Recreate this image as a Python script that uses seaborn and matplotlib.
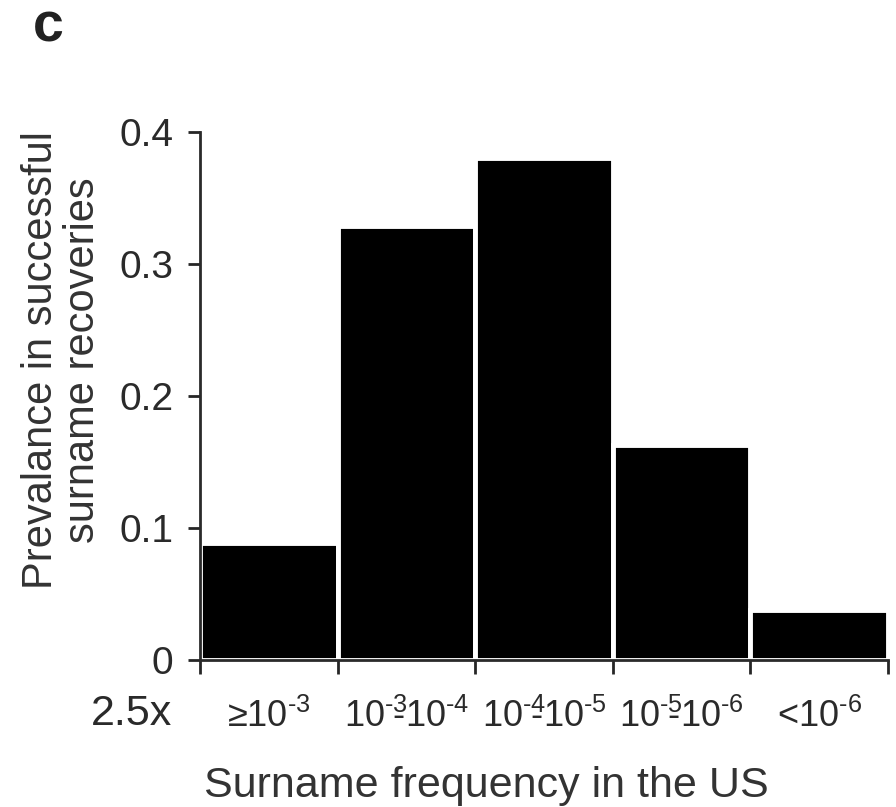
import matplotlib
matplotlib.use("Agg")
import matplotlib.pyplot as plt
import seaborn as sns
import pandas as pd

categories = [r"≥10$^{\text{-}3}$",
              r"10$^{\text{-}3}\!\!\!$-10$^{\text{-}4}$",
              r"10$^{\text{-}4}\!\!\!$-10$^{\text{-}5}$",
              r"10$^{\text{-}5}\!\!\!$-10$^{\text{-}6}$",
              r"<10$^{\text{-}6}$"]
values = [0.089, 0.329, 0.380, 0.163, 0.038]
yticks = [0, 0.1, 0.2, 0.3, 0.4]
ytick_labels = ["0", "0.1", "0.2", "0.3", "0.4"]

sns.set_style("ticks")
plt.rcParams['font.family'] = ['Liberation Sans', 'DejaVu Sans']
plt.rcParams['mathtext.fontset'] = 'custom'
plt.rcParams['mathtext.rm'] = 'Liberation Sans'
plt.rcParams['mathtext.it'] = 'Liberation Sans'
plt.rcParams['mathtext.default'] = 'regular'

df = pd.DataFrame({"cat": categories, "val": values})

fig = plt.figure(figsize=(8.96, 8.07), dpi=100)
ax = fig.add_axes([0.2232, 0.182, 0.768, 0.6544])
sns.barplot(data=df, x="cat", y="val", color="black", width=1.0,
            edgecolor="white", linewidth=3.5, ax=ax, saturation=1)
ax.set_xlim(-0.5, 4.5)
ax.set_ylim(0, 0.4)
ax.set_yticks(yticks)
ax.set_yticklabels(ytick_labels, fontsize=28, color="#2a2a2a")
ax.set_xticks([-0.5, 0.5, 1.5, 2.5, 3.5, 4.5])
ax.set_xticklabels([])
ax.set_xticks(range(len(categories)), minor=True)
ax.set_xticklabels(categories, minor=True, fontsize=26, color="#2a2a2a")
ax.tick_params(axis="x", which="minor", length=0, pad=28)
ax.tick_params(axis="x", which="major", length=10, width=2, direction="out")
ax.tick_params(axis="y", length=9, width=2, direction="out", pad=10)
for s in ["top", "right"]:
    ax.spines[s].set_visible(False)
for s in ["left", "bottom"]:
    ax.spines[s].set_linewidth(2)
    ax.spines[s].set_color("#2a2a2a")
ax.set_xlabel("")
ax.set_ylabel("")
fig.text(486/896, 1 - 786/807, "Surname frequency in the US", fontsize=31,
         color="#333333", ha="center", va="center")
fig.text(62/896, 1 - 360/807, "Prevalance in successful\nsurname recoveries", fontsize=30,
         color="#333333", ha="center", va="center", rotation=90, linespacing=1.05,
         multialignment="center")
fig.text(131/896, 1 - 714/807, "2.5x", fontsize=31, color="#2a2a2a", ha="center", va="center")
fig.text(48/896, 1 - 27/807, "c", fontsize=40, fontweight="bold", ha="center", va="center",
         color="#222222")

fig.savefig("out.png", dpi=100)
